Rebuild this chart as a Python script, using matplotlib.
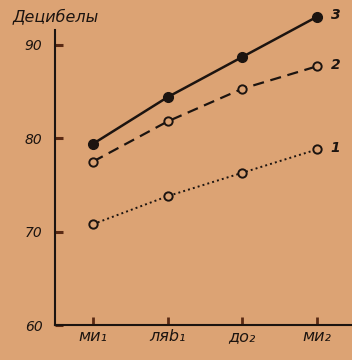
import numpy as np
import matplotlib.pyplot as plt

# ── Data ──────────────────────────────────────
NOTES    = ['ми₁', 'ляb₁', 'до₂', 'ми₂']
CURVE_1  = [70.8, 73.8, 76.3, 78.8]   # dotted, open circles
CURVE_2  = [77.5, 81.8, 85.3, 87.7]   # dashed, open circles
CURVE_3  = [79.4, 84.4, 88.7, 93.0]   # solid, filled circles
Y_TICKS  = [60, 70, 80, 90]

BG  = '#dca374'
INK = '#1c1410'

fig = plt.figure(figsize=(3.52, 3.60), dpi=100, facecolor=BG)
ax = fig.add_axes([0.156, 0.097, 0.844, 0.82], facecolor=BG)

x = np.arange(len(NOTES))

ax.plot(x, CURVE_1, linestyle=(0, (1, 1.6)), color=INK, linewidth=1.4,
        marker='o', markersize=6, markerfacecolor=BG, markeredgecolor=INK,
        markeredgewidth=1.4, clip_on=False, zorder=3)
ax.plot(x, CURVE_2, linestyle=(0, (5, 3)), color=INK, linewidth=1.6,
        marker='o', markersize=6, markerfacecolor=BG, markeredgecolor=INK,
        markeredgewidth=1.4, clip_on=False, zorder=3)
ax.plot(x, CURVE_3, linestyle='-', color=INK, linewidth=1.8,
        marker='o', markersize=7, markerfacecolor=INK, markeredgecolor=INK,
        clip_on=False, zorder=3)

# curve numbers at the right end
for vals, lab in [(CURVE_1, '1'), (CURVE_2, '2'), (CURVE_3, '3')]:
    ax.annotate(lab, (x[-1], vals[-1]), xytext=(10, 1), textcoords='offset points',
                fontsize=10, fontstyle='italic', fontweight='bold', color=INK,
                va='center', ha='left', annotation_clip=False)

ax.set_xlim(-0.51, 3.47)
ax.set_ylim(60, 91.6)

ax.set_xticks(x)
ax.set_xticklabels(NOTES, fontsize=11.5, fontstyle='italic', color=INK)
ax.set_yticks(Y_TICKS)
ax.set_yticklabels([str(v) for v in Y_TICKS], fontsize=10, fontstyle='italic',
                   color=INK)

ax.tick_params(axis='y', direction='in', length=6, width=2.2, color='#5a2a14', pad=9)
ax.tick_params(axis='x', direction='in', length=6, width=2.0, color='#5a2a14', pad=3)

for side in ['top', 'right']:
    ax.spines[side].set_visible(False)
for side in ['left', 'bottom']:
    ax.spines[side].set_color(INK)
    ax.spines[side].set_linewidth(1.5)

fig.text(0.035, 0.955, 'Децибелы', fontsize=11.5, fontstyle='italic',
         color=INK, ha='left', va='center')

fig.savefig('out.png', dpi=100, facecolor=BG)
